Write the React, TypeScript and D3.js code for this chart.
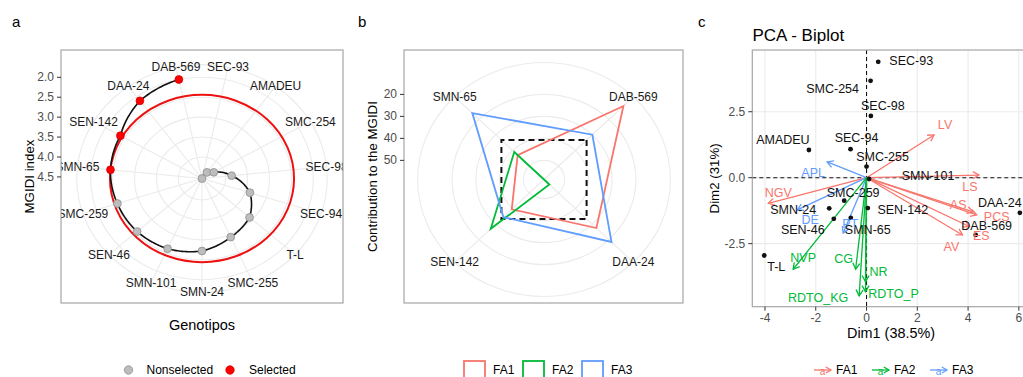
import React from 'react';
import * as d3 from 'd3';

// ---- panel a: MGIDI index per genotype (ranked, worst first)
const genotypes = ['SEC-93', 'AMADEU', 'SMC-254', 'SEC-98', 'SEC-94', 'T-L', 'SMC-255', 'SMN-24', 'SMN-101', 'SEN-46', 'SMC-259', 'SMN-65', 'SEN-142', 'DAA-24', 'DAB-569'];
const mgidi = [4.54, 4.35, 4.23, 3.86, 3.39, 3.08, 2.93, 2.72, 2.61, 2.55, 2.51, 2.44, 2.39, 2.13, 2.0];
const selected = ['SMN-65', 'SEN-142', 'DAA-24', 'DAB-569'];
const cutpoint = 2.44;
const mgidiTicks = [2.0, 2.5, 3.0, 3.5, 4.0, 4.5];

// ---- panel b: contribution of each factor to the MGIDI of selected genotypes
const selGenotypes = ['DAB-569', 'DAA-24', 'SEN-142', 'SMN-65'];
const factors = ['FA1', 'FA2', 'FA3'];
const contribFA1 = [11.4, 27.5, 39.5, 43.0];
const contribFA2 = [58.7, 55.5, 27.0, 41.0];
const contribFA3 = [29.9, 18.5, 34.5, 16.0];
const contribTicks = [20, 30, 40, 50];
const expectedContrib = 100 / 3;

// ---- panel c: PCA biplot
const pcaGenotypes = ['SEC-93', 'SMC-254', 'SEC-98', 'AMADEU', 'SEC-94', 'SMC-255', 'SMN-101', 'SMC-259', 'SMN-24', 'SEN-46', 'SMN-65', 'SEN-142', 'DAA-24', 'DAB-569', 'T-L'];
const indDim1 = [0.46, 0.16, 0.17, -2.27, -0.63, 0.0, 0.1, -0.88, -1.47, -1.29, -0.62, 0.05, 6.04, 4.3, -4.03];
const indDim2 = [4.39, 3.67, 2.34, 1.05, 1.08, 0.42, -0.05, -0.87, -1.16, -1.56, -1.52, -1.15, -1.33, -2.17, -2.95];
const variables = ['LV', 'LS', 'AS', 'PCS', 'ES', 'AV', 'NGV', 'APL', 'DE', 'PT', 'NVP', 'CG', 'NR', 'RDTO_KG', 'RDTO_P'];
const varFactor = ['FA1', 'FA1', 'FA1', 'FA1', 'FA1', 'FA1', 'FA1', 'FA3', 'FA3', 'FA3', 'FA2', 'FA2', 'FA2', 'FA2', 'FA2'];
const varDim1 = [2.66, 4.43, 4.2, 4.34, 4.05, 3.78, -3.87, -1.55, -2.73, -0.92, -2.89, -0.43, -0.04, -0.29, -0.04];
const varDim2 = [1.62, 0.1, -1.3, -1.41, -1.85, -2.17, -0.97, 0.6, -1.22, -2.1, -3.47, -3.47, -3.94, -4.48, -4.32];
const dim1Ticks = [-4, -2, 0, 2, 4, 6];
const dim2Ticks = [-2.5, 0, 2.5];
const dim2TickLabels = ['-2.5', '0.0', '2.5'];

// label placement (repel-like offsets, px)
const indNudge = [[33, -1], [-38, 8], [12, -10], [-26, -10], [6, -11], [16, -10], [59, -3], [9, -8], [-36, 2], [-31, 11], [17, 12], [35, 2], [-20, -10], [11, -9], [12, 11]];
const varNudge = [[11, -10], [-9, 12], [-15, -7], [20, 2], [12, 10], [-11, 12], [10, -10], [-14, 11], [13, 10], [7, -9], [10, -11], [-12, -10], [13, -10], [-41, 2], [28, 2]];

const FONT = '"Liberation Sans", Arial, Helvetica, sans-serif';
const COLORS: Record<string, string> = { FA1: '#F8766D', FA2: '#00BA38', FA3: '#619CFF' };
const GRID = '#EBEBEB';
const BORDER = '#A6A6A6';
const TICKTXT = '#4D4D4D';

function PanelA() {
  const x0 = 61, y0 = 50, x1 = 343, y1 = 303;
  const cx = 202, cy = 178.5, sx = 1.1, U = 253;
  const r = d3.scaleLinear().domain([d3.max(mgidi)!, d3.min(mgidi)!]).range([0, 0.4 * U]);
  const theta = d3.scaleBand().domain(genotypes).range([0, 2 * Math.PI]);
  const ang = (g: string) => (theta(g) as number) + theta.bandwidth() / 2;
  const px = (a: number, rr: number) => cx + sx * rr * Math.sin(a);
  const py = (a: number, rr: number) => cy - rr * Math.cos(a);

  const pts: [number, number][] = [];
  genotypes.forEach((g, i) => {
    if (i === 0) return;
    const a0 = ang(genotypes[i - 1]), a1 = ang(g);
    const r0 = r(mgidi[i - 1]), r1 = r(mgidi[i]);
    for (let k = 0; k <= 24; k++) {
      const t = k / 24;
      pts.push([px(a0 + (a1 - a0) * t, r0 + (r1 - r0) * t), py(a0 + (a1 - a0) * t, r0 + (r1 - r0) * t)]);
    }
  });
  const line = d3.line();
  const outer = 0.45 * U;

  return (
    <g>
      <text x={12} y={27} fontSize={15} fontFamily={FONT}>a</text>
      <defs>
        <clipPath id="clipA"><rect x={x0} y={y0} width={x1 - x0} height={y1 - y0} /></clipPath>
      </defs>
      <g clipPath="url(#clipA)">
        <rect x={x0} y={y0} width={x1 - x0} height={y1 - y0} fill="white" />
        {[...mgidiTicks.map(v => r(v)), outer].map((rr, i) => (
          <ellipse key={i} cx={cx} cy={cy} rx={sx * rr} ry={rr} fill="none" stroke={GRID} strokeWidth={1.1} />
        ))}
        {genotypes.map(g => (
          <line key={g} x1={cx} y1={cy} x2={px(ang(g), outer)} y2={py(ang(g), outer)} stroke={GRID} strokeWidth={1.1} />
        ))}
        <ellipse cx={cx} cy={cy} rx={sx * r(cutpoint)} ry={r(cutpoint)} fill="none" stroke="#EE1111" strokeWidth={2} />
        <path d={line(pts) || ''} fill="none" stroke="#111" strokeWidth={1.6} />
        {genotypes.map((g, i) => {
          const sel = selected.includes(g);
          return (
            <circle key={g} cx={px(ang(g), r(mgidi[i]))} cy={py(ang(g), r(mgidi[i]))} r={3.9}
              fill={sel ? '#FF0000' : '#BDBDBD'} stroke={sel ? '#D00000' : '#8E8E8E'} strokeWidth={0.8} />
          );
        })}
        {genotypes.map(g => (
          <text key={g} x={px(ang(g), outer)} y={py(ang(g), outer)} textAnchor="middle" dominantBaseline="central"
            fontSize={12} fontFamily={FONT} fill="#1A1A1A">{g}</text>
        ))}
      </g>
      <rect x={x0} y={y0} width={x1 - x0} height={y1 - y0} fill="none" stroke={BORDER} strokeWidth={1.2} />
      {mgidiTicks.map(v => (
        <g key={v}>
          <line x1={x0 - 4} x2={x0} y1={cy - r(v)} y2={cy - r(v)} stroke="#333" strokeWidth={1} />
          <text x={x0 - 7} y={cy - r(v)} textAnchor="end" dominantBaseline="central" fontSize={12} fontFamily={FONT} fill={TICKTXT}>{v.toFixed(1)}</text>
        </g>
      ))}
      <text transform={`translate(29,${(y0 + y1) / 2}) rotate(-90)`} textAnchor="middle" dominantBaseline="central" fontSize={13.3} fontFamily={FONT}>MGIDI index</text>
      <text x={(x0 + x1) / 2} y={325} textAnchor="middle" dominantBaseline="central" fontSize={14.5} fontFamily={FONT}>Genotipos</text>
      <circle cx={128.5} cy={370} r={4.2} fill="#BDBDBD" stroke="#8E8E8E" strokeWidth={0.8} />
      <text x={146.5} y={370} dominantBaseline="central" fontSize={12} fontFamily={FONT}>Nonselected</text>
      <circle cx={230} cy={370} r={4.2} fill="#FF0000" stroke="#D00000" strokeWidth={0.8} />
      <text x={249} y={370} dominantBaseline="central" fontSize={12} fontFamily={FONT}>Selected</text>
    </g>
  );
}

function PanelB() {
  const x0 = 404, y0 = 50, x1 = 683, y1 = 303;
  const cx = 544, cy = 179.5, sx = 1.08, U = 260;
  const all = [...contribFA1, ...contribFA2, ...contribFA3];
  const r = d3.scaleLinear().domain([d3.max(all)!, d3.min(all)!]).range([0, 0.4 * U]);
  const theta = d3.scaleBand().domain(selGenotypes).range([0, 2 * Math.PI]);
  const ang = (g: string) => (theta(g) as number) + theta.bandwidth() / 2;
  const px = (a: number, rr: number) => cx + sx * rr * Math.sin(a);
  const py = (a: number, rr: number) => cy - rr * Math.cos(a);
  const outer = 0.45 * U;
  const series = [contribFA1, contribFA2, contribFA3];
  const poly = d3.line().curve(d3.curveLinearClosed);
  const toPts = (vals: number[]) => selGenotypes.map((g, i) => [px(ang(g), r(vals[i])), py(ang(g), r(vals[i]))] as [number, number]);

  return (
    <g>
      <text x={358} y={27} fontSize={15} fontFamily={FONT}>b</text>
      <defs>
        <clipPath id="clipB"><rect x={x0} y={y0} width={x1 - x0} height={y1 - y0} /></clipPath>
      </defs>
      <g clipPath="url(#clipB)">
        <rect x={x0} y={y0} width={x1 - x0} height={y1 - y0} fill="white" />
        {[...contribTicks.map(v => r(v)), outer].map((rr, i) => (
          <ellipse key={i} cx={cx} cy={cy} rx={sx * rr} ry={rr} fill="none" stroke={GRID} strokeWidth={1.1} />
        ))}
        {selGenotypes.map(g => (
          <line key={g} x1={cx} y1={cy} x2={px(ang(g), outer)} y2={py(ang(g), outer)} stroke={GRID} strokeWidth={1.1} />
        ))}
        <path d={poly(toPts(selGenotypes.map(() => expectedContrib))) || ''} fill="none" stroke="#111" strokeWidth={2} strokeDasharray="6,4" />
        {series.map((vals, k) => (
          <path key={k} d={poly(toPts(vals)) || ''} fill="none" stroke={COLORS[factors[k]]} strokeWidth={1.8} strokeLinejoin="miter" />
        ))}
        {selGenotypes.map(g => (
          <text key={g} x={px(ang(g), outer)} y={py(ang(g), outer)} textAnchor="middle" dominantBaseline="central"
            fontSize={12} fontFamily={FONT} fill="#1A1A1A">{g}</text>
        ))}
      </g>
      <rect x={x0} y={y0} width={x1 - x0} height={y1 - y0} fill="none" stroke={BORDER} strokeWidth={1.2} />
      {contribTicks.map(v => (
        <g key={v}>
          <line x1={x0 - 4} x2={x0} y1={cy - r(v)} y2={cy - r(v)} stroke="#333" strokeWidth={1} />
          <text x={x0 - 7} y={cy - r(v)} textAnchor="end" dominantBaseline="central" fontSize={12} fontFamily={FONT} fill={TICKTXT}>{v}</text>
        </g>
      ))}
      <text transform={`translate(372,${(y0 + y1) / 2}) rotate(-90)`} textAnchor="middle" dominantBaseline="central" fontSize={13.3} fontFamily={FONT}>Contribution to the MGIDI</text>
      {factors.map((f, i) => (
        <g key={f} transform={`translate(${464 + i * 59},0)`}>
          <rect x={0} y={361} width={21} height={20} fill="white" stroke={COLORS[f]} strokeWidth={1.8} />
          <text x={29} y={370} dominantBaseline="central" fontSize={12} fontFamily={FONT}>{f}</text>
        </g>
      ))}
    </g>
  );
}

function arrowHead(x1: number, y1: number, x2: number, y2: number, len = 7) {
  const a = Math.atan2(y2 - y1, x2 - x1);
  const s = Math.PI / 6;
  const p1 = [x2 - len * Math.cos(a - s), y2 - len * Math.sin(a - s)];
  const p2 = [x2 - len * Math.cos(a + s), y2 - len * Math.sin(a + s)];
  return `M${p1[0]},${p1[1]}L${x2},${y2}L${p2[0]},${p2[1]}`;
}

function PanelC() {
  const x0 = 752.3, y0 = 50, y1 = 306.7;
  const x = d3.scaleLinear().domain([-4.5, 6.4]).range([x0, 1029]);
  const y = d3.scaleLinear().domain([-4.89, 4.84]).range([y1, y0]);
  const xr = x.range()[1];
  return (
    <g>
      <text x={698} y={27} fontSize={15} fontFamily={FONT}>c</text>
      <text x={752.5} y={41} fontSize={17} fontFamily={FONT}>PCA - Biplot</text>
      <defs>
        <clipPath id="clipC"><rect x={x0} y={y0} width={xr - x0} height={y1 - y0} /></clipPath>
      </defs>
      <rect x={x0} y={y0} width={xr - x0} height={y1 - y0} fill="white" />
      <g clipPath="url(#clipC)">
        {dim1Ticks.map(v => <line key={v} x1={x(v)} x2={x(v)} y1={y0} y2={y1} stroke={GRID} strokeWidth={1.1} />)}
        {dim2Ticks.map(v => <line key={v} x1={x0} x2={xr} y1={y(v)} y2={y(v)} stroke={GRID} strokeWidth={1.1} />)}
        <line x1={x(0)} x2={x(0)} y1={y0} y2={y1} stroke="#111" strokeWidth={1.1} strokeDasharray="4,3" />
        <line x1={x0} x2={xr} y1={y(0)} y2={y(0)} stroke="#111" strokeWidth={1.1} strokeDasharray="4,3" />
        {variables.map((v, i) => {
          const tx = x(varDim1[i]), ty = y(varDim2[i]);
          return (
            <g key={v} stroke={COLORS[varFactor[i]]} strokeWidth={1.3} fill="none">
              <line x1={x(0)} y1={y(0)} x2={tx} y2={ty} />
              <path d={arrowHead(x(0), y(0), tx, ty)} />
            </g>
          );
        })}
        {pcaGenotypes.map((g, i) => (
          <circle key={g} cx={x(indDim1[i])} cy={y(indDim2[i])} r={2.4} fill="#111" />
        ))}
        {pcaGenotypes.map((g, i) => (
          <text key={g} x={x(indDim1[i]) + indNudge[i][0]} y={y(indDim2[i]) + indNudge[i][1]} textAnchor="middle"
            dominantBaseline="central" fontSize={12.5} fontFamily={FONT} fill="#111">{g}</text>
        ))}
        {variables.map((v, i) => (
          <text key={v} x={x(varDim1[i]) + varNudge[i][0]} y={y(varDim2[i]) + varNudge[i][1]} textAnchor="middle"
            dominantBaseline="central" fontSize={12.5} fontFamily={FONT} fill={COLORS[varFactor[i]]}>{v}</text>
        ))}
      </g>
      <rect x={x0} y={y0} width={xr - x0} height={y1 - y0} fill="none" stroke={BORDER} strokeWidth={1.2} />
      {dim1Ticks.map(v => (
        <g key={v}>
          <line x1={x(v)} x2={x(v)} y1={y1} y2={y1 + 4} stroke="#333" strokeWidth={1} />
          <text x={x(v)} y={y1 + 11} textAnchor="middle" dominantBaseline="central" fontSize={12} fontFamily={FONT} fill={TICKTXT}>{String(v)}</text>
        </g>
      ))}
      {dim2Ticks.map((v, i) => (
        <g key={v}>
          <line x1={x0 - 4} x2={x0} y1={y(v)} y2={y(v)} stroke="#333" strokeWidth={1} />
          <text x={x0 - 7} y={y(v)} textAnchor="end" dominantBaseline="central" fontSize={12} fontFamily={FONT} fill={TICKTXT}>{dim2TickLabels[i]}</text>
        </g>
      ))}
      <text x={891} y={333} textAnchor="middle" dominantBaseline="central" fontSize={14.4} fontFamily={FONT}>Dim1 (38.5%)</text>
      <text transform={`translate(714,${(y0 + y1) / 2}) rotate(-90)`} textAnchor="middle" dominantBaseline="central" fontSize={13.3} fontFamily={FONT}>Dim2 (31%)</text>
      {factors.map((f, i) => (
        <g key={f} transform={`translate(${814 + i * 58},370)`}>
          <g stroke={COLORS[f]} strokeWidth={1.3} fill="none">
            <line x1={0} y1={0} x2={17} y2={0} />
            <path d={arrowHead(0, 0, 17, 0, 6)} />
          </g>
          <text x={8.5} y={1} textAnchor="middle" dominantBaseline="central" fontSize={10} fontFamily={FONT} fill={COLORS[f]}>a</text>
          <text x={22} y={0} dominantBaseline="central" fontSize={12} fontFamily={FONT}>{f}</text>
        </g>
      ))}
    </g>
  );
}

export default function App() {
  return (
    <svg width={1023} height={377} style={{ position: 'absolute', left: 0, top: 0, background: 'white', display: 'block' }}>
      <rect width={1023} height={377} fill="white" />
      <PanelA />
      <PanelB />
      <PanelC />
    </svg>
  );
}
